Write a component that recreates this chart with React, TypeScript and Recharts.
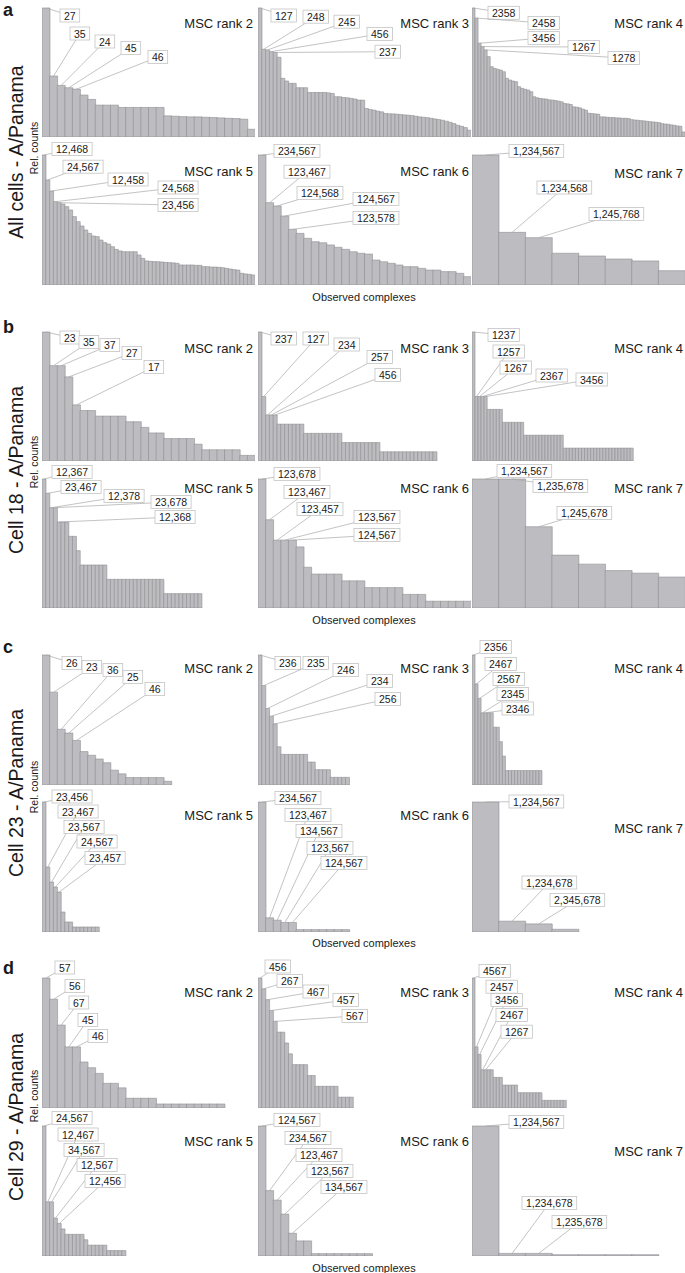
import React from 'react';
import { BarChart, Bar, XAxis, YAxis, LabelList } from 'recharts';

const FONT = '"Liberation Sans", Arial, Helvetica, sans-serif';
const BAR_FILL = '#bdbdc1';
const BAR_STROKE = '#8e8e92';
const TEXT = '#1a1a1a';

// number of possible complexes per MSC rank (8 segments choose k) -> fixed x slots
const rankSlots: Record<number, number> = { 2: 28, 3: 56, 4: 70, 5: 56, 6: 28, 7: 8 };

// ---- a: all cells (relative counts, % of top complex)
const aRank2 = [100, 47.3, 40, 38.2, 37.1, 32.5, 29.1, 24.7, 24.7, 24.7, 22.9, 22.9, 22.9, 22.9, 22.9, 22.9, 16.4, 16.1, 15.8, 15.6, 15.6, 15.3, 15.1, 14.8, 14.5, 14.3, 13.8, 6];
const aRank3 = [100, 68, 67.5, 66.2, 65.5, 61.8, 45.5, 43.4, 41.6, 41.6, 38.2, 38.2, 38.2, 34.5, 34.5, 34.5, 34.5, 34.5, 34.2, 33.8, 31.2, 31.2, 30.6, 30.4, 29.9, 29.4, 28.6, 28.6, 22.1, 21.3, 20.8, 20, 19.5, 18.2, 18, 17.9, 17.7, 17.4, 17.1, 16.9, 16.6, 16.1, 15.6, 15.3, 15, 14.5, 14, 13.5, 13, 12.2, 11.4, 10.4, 9.1, 8.3, 7.3, 5.2];
const aRank4 = [100, 92.2, 72.7, 70.1, 67.5, 62.3, 54.5, 53.2, 52.5, 51.9, 50.6, 45.5, 44.2, 43.4, 42.9, 39, 37.7, 37, 36.4, 35.1, 31.2, 30.4, 29.9, 29.6, 29.4, 28.8, 28.6, 28.3, 27.8, 27.3, 26, 25.7, 25.2, 23.4, 23.1, 22.6, 21.6, 20.8, 18.4, 18.2, 17.9, 17.7, 15.6, 15.6, 15.3, 15.1, 15.1, 14.8, 14.8, 14.5, 14.5, 14.3, 13.5, 13.2, 13, 12.7, 12.5, 12.2, 11.9, 11.7, 11.4, 11.2, 10.4, 10.1, 9.9, 9.4, 9.1, 8.6, 8.3, 3.9];
const aRank5 = [100, 80.8, 72.3, 64.1, 63.3, 62.3, 60.3, 57.7, 52.6, 48.7, 45.4, 42.3, 39.7, 37.7, 37.2, 34.6, 32.6, 31.5, 29.5, 27.4, 26.2, 25.6, 25.6, 25.6, 25.6, 23.1, 20.5, 18.5, 18.2, 18, 17.9, 17.7, 17.4, 17.2, 17, 16.7, 15.4, 15.4, 15.4, 15.4, 15.1, 15.1, 14.1, 14.1, 13.8, 13.8, 13.6, 13.3, 12.8, 12.3, 11.8, 11.5, 9, 8.5, 8.2, 7.7];
const aRank6 = [100, 63.3, 60.8, 53.1, 42.8, 39.7, 35.9, 33.3, 32.5, 30.8, 29, 27.4, 25.6, 24.4, 23.8, 19.2, 17.9, 16.7, 15.4, 14.1, 14.1, 12.8, 11.5, 11.5, 10.3, 10.3, 9, 6.4];
const aRank7 = [100, 40.5, 36.4, 24.4, 22.3, 20, 18.5, 11];

// ---- b: cell 18 (counts)
const bRank2 = [23, 17, 17, 15, 10, 9, 9, 8, 8, 8, 8, 7, 7, 6, 5, 5, 4, 4, 4, 4, 3, 2, 2, 2, 2, 2, 1, 1];
const bRank3 = [14, 7, 5, 5, 5, 4, 4, 4, 4, 4, 4, 4, 3, 3, 3, 3, 3, 3, 3, 3, 3, 3, 2, 2, 2, 2, 2, 2, 2, 2, 2, 2, 1, 1, 1, 1, 1, 1, 1, 1, 1, 1, 1, 1, 1, 1, 1];
const bRank4 = [10, 5, 5, 5, 5, 4, 4, 4, 4, 4, 3, 3, 3, 3, 3, 3, 3, 2, 2, 2, 2, 2, 2, 2, 2, 2, 2, 2, 2, 2, 1, 1, 1, 1, 1, 1, 1, 1, 1, 1, 1, 1, 1, 1, 1, 1, 1, 1, 1, 1, 1, 1, 1];
const bRank5 = [9, 8, 7, 7, 6, 6, 6, 5, 5, 4, 3, 3, 3, 3, 3, 3, 3, 2, 2, 2, 2, 2, 2, 2, 2, 2, 2, 2, 2, 2, 2, 2, 1, 1, 1, 1, 1, 1, 1, 1, 1, 1];
const bRank6 = [19, 13, 10, 10, 10, 9, 6, 5, 5, 5, 5, 4, 4, 4, 3, 3, 3, 3, 3, 2, 2, 2, 1, 1, 1, 1, 1, 1];
const bRank7 = [100, 100, 63, 41, 34, 29, 27, 24];

// ---- c: cell 23 (counts)
const cRank2 = [35, 25, 15, 14, 12, 9, 8, 7, 6, 4, 3, 2, 2, 2, 2, 2, 1];
const cRank3 = [17, 13, 10, 9, 8, 5, 4, 4, 4, 4, 4, 4, 4, 3, 3, 2, 2, 2, 2, 1, 1, 1, 1, 1];
const cRank4 = [9, 7, 6, 5, 5, 5, 5, 4, 4, 3, 2, 1, 1, 1, 1, 1, 1, 1, 1, 1, 1, 1, 1];
const cRank5 = [26, 13, 10, 9, 8, 4, 2, 2, 1, 1, 1, 1, 1, 1, 1];
const cRank6 = [55, 6, 5, 4, 4, 1, 1, 1, 1, 1, 1, 1];
const cRank7 = [48, 4, 3, 1];

// ---- d: cell 29
const dRank2 = [100, 83.7, 63.8, 47, 47, 35.4, 31, 26.6, 19, 19, 15.5, 7.5, 7.5, 7.5, 7.5, 3.1, 3.1, 3.1, 3.1, 3.1, 3.1, 3.1, 3.1, 3.1];
const dRank3 = [12, 11, 10, 9, 8, 7, 7, 6, 5, 4, 4, 4, 4, 3, 3, 2, 2, 2, 2, 2, 2, 1, 1, 1, 1];
const dRank4 = [17, 8, 7, 5, 5, 5, 5, 4, 4, 4, 3, 3, 3, 3, 3, 2, 2, 2, 2, 2, 2, 2, 2, 1, 1, 1, 1, 1, 1, 1, 1];
const dRank5 = [24, 10, 10, 7, 6, 5, 4, 4, 4, 4, 4, 3, 2, 2, 2, 2, 2, 1, 1, 1, 1, 1];
const dRank6 = [100, 50.3, 43, 32.2, 17.5, 11.6, 11.6, 1.8, 1.8, 1.8, 1.8, 1.8, 1.8, 1.8, 1.8];
const dRank7 = [100, 2, 2, 1, 1, 1, 1];

// callout texts (top complexes, in bar order)
const aLab = [
  ['27', '35', '24', '45', '46'],
  ['127', '248', '245', '456', '237'],
  ['2358', '2458', '3456', '1267', '1278'],
  ['12,468', '24,567', '12,458', '24,568', '23,456'],
  ['234,567', '123,467', '124,568', '124,567', '123,578'],
  ['1,234,567', '1,234,568', '1,245,768'],
];
const bLab = [
  ['23', '35', '37', '27', '17'],
  ['237', '127', '234', '257', '456'],
  ['1237', '1257', '1267', '2367', '3456'],
  ['12,367', '23,467', '12,378', '23,678', '12,368'],
  ['123,678', '123,467', '123,457', '123,567', '124,567'],
  ['1,234,567', '1,235,678', '1,245,678'],
];
const cLab = [
  ['26', '23', '36', '25', '46'],
  ['236', '235', '246', '234', '256'],
  ['2356', '2467', '2567', '2345', '2346'],
  ['23,456', '23,467', '23,567', '24,567', '23,457'],
  ['234,567', '123,467', '134,567', '123,567', '124,567'],
  ['1,234,567', '1,234,678', '2,345,678'],
];
const dLab = [
  ['57', '56', '67', '45', '46'],
  ['456', '267', '467', '457', '567'],
  ['4567', '2457', '3456', '2467', '1267'],
  ['24,567', '12,467', '34,567', '12,567', '12,456'],
  ['124,567', '234,567', '123,467', '123,567', '134,567'],
  ['1,234,567', '1,234,678', '1,235,678'],
];

// callout box placement on the page: [left x, centre y]
const aBox = [
  [[60, 15.5], [70, 33.5], [95, 41.5], [121, 48], [148, 57]],
  [[271, 15.5], [303, 16.7], [334, 21.7], [367, 34], [375, 51.7]],
  [[488, 12.8], [528, 23], [528, 38], [568, 47], [608, 58]],
  [[52, 149], [63, 166.7], [108, 179.5], [158, 187.5], [158, 205]],
  [[274, 151], [284, 171.7], [297, 193], [353, 199], [353, 218]],
  [[509, 151], [537, 187.5], [589, 214]],
];
const bBox = [
  [[60, 337.5], [79, 342], [100, 345], [122, 353], [144, 367]],
  [[271, 338.5], [303, 338.5], [334, 344.5], [367, 357], [375, 375]],
  [[488, 335], [493, 351.5], [500, 367.5], [536, 375.5], [576, 379.5]],
  [[52, 472], [61, 487], [104, 496], [151, 502], [155, 517]],
  [[274, 474], [284, 492], [297, 509], [354, 517], [354, 535]],
  [[497, 471], [533, 486], [557, 513]],
];
const cBox = [
  [[62, 663], [82, 667], [103, 670], [123, 677], [145, 689]],
  [[275, 663], [303, 663], [333, 670], [367, 681], [375, 699]],
  [[480, 647], [485, 664], [493, 679], [497, 694], [502, 708.5]],
  [[52, 796.5], [58, 811.5], [64, 827], [77, 841.5], [85, 858]],
  [[275, 798], [285, 815], [296, 831], [307, 848], [321, 863]],
  [[509, 801.5], [522, 882.5], [550, 900]],
];
const dBox = [
  [[55, 967.5], [65, 986], [69, 1002.5], [78, 1020], [88, 1036]],
  [[265, 966.5], [277, 981], [303, 991.5], [333, 1000], [342, 1016]],
  [[479, 971], [486, 986.7], [491, 1000], [496, 1015], [501, 1031.7]],
  [[52, 1118], [58, 1134.5], [64, 1150], [77, 1165], [85, 1181]],
  [[274, 1120], [285, 1138], [296, 1155], [307, 1171], [321, 1187]],
  [[509, 1122], [522, 1203], [552, 1222]],
];

const ranks = [2, 3, 4, 5, 6, 7];

const panels = [
  {
    letter: 'a', letterY: 16, title: 'All cells - A/Panama', titleY: 152, relY: 148, obsY: 297,
    rows: [[8, 137], [155, 285]], rankY: [23, 23, 23, 171, 171, 173],
    values: [aRank2, aRank3, aRank4, aRank5, aRank6, aRank7], labels: aLab, boxes: aBox,
  },
  {
    letter: 'b', letterY: 333, title: 'Cell 18 - A/Panama', titleY: 470, relY: 462, obsY: 620,
    rows: [[332, 461], [479, 608]], rankY: [348, 348, 348, 488, 488, 488],
    values: [bRank2, bRank3, bRank4, bRank5, bRank6, bRank7], labels: bLab, boxes: bBox,
  },
  {
    letter: 'c', letterY: 653, title: 'Cell 23 - A/Panama', titleY: 793, relY: 787, obsY: 943,
    rows: [[655, 785], [802, 932]], rankY: [668, 668, 668, 815, 815, 828],
    values: [cRank2, cRank3, cRank4, cRank5, cRank6, cRank7], labels: cLab, boxes: cBox,
  },
  {
    letter: 'd', letterY: 974, title: 'Cell 29 - A/Panama', titleY: 1117, relY: 1096, obsY: 1268,
    rows: [[978, 1108], [1126, 1256]], rankY: [992, 992, 992, 1141, 1141, 1151],
    values: [dRank2, dRank3, dRank4, dRank5, dRank6, dRank7], labels: dLab, boxes: dBox,
  },
];

const COL_X = [42, 258, 472];
const CHART_W = 213;
const PAD = 22;
const BOX_FS = 10.5;
const BOX_H = 13;

const textWidth = (s: string) =>
  s.split('').reduce((w, ch) => w + (ch === ',' ? 0.278 : 0.556), 0) * BOX_FS;

// ggrepel-like callout: segment from bar top toward the box centre, cut at the box edge
function callout(labels: string[], boxes: number[][], ox: number, oy: number) {
  return (props: any) => {
    const idx = Number(props.value ?? props.index);
    if (!(idx < labels.length)) return null;
    const vb = props.viewBox || props;
    if (vb == null || vb.x == null) return null;
    const px = vb.x + vb.width / 2;
    const py = vb.y;
    const txt = labels[idx];
    const w = textWidth(txt) + 8;
    const bx = boxes[idx][0] - ox;
    const by = boxes[idx][1] - oy - BOX_H / 2;
    const cx = bx + w / 2;
    const cy = by + BOX_H / 2;
    const dx = cx - px;
    const dy = cy - py;
    const tx = Math.abs(dx) > 1e-6 ? 1 - w / 2 / Math.abs(dx) : -Infinity;
    const ty = Math.abs(dy) > 1e-6 ? 1 - BOX_H / 2 / Math.abs(dy) : -Infinity;
    const t = Math.max(0, Math.min(1, Math.max(tx, ty)));
    return (
      <g key={`co-${idx}`}>
        <line x1={px} y1={py} x2={px + dx * t} y2={py + dy * t} stroke="#a9a9a9" strokeWidth={0.7} />
        <rect x={bx} y={by} width={w} height={BOX_H} fill="#fff" stroke="#c4c4c4" strokeWidth={0.8} />
        <text x={cx} y={cy} textAnchor="middle" dominantBaseline="central" fontSize={BOX_FS} fontFamily={FONT} fill={TEXT}>
          {txt}
        </text>
      </g>
    );
  };
}

function MiniBars({ rank, values, labels, boxes, left, top, height }: any) {
  const n = rankSlots[rank];
  const data = Array.from({ length: n }, (_, i) => ({ k: i, i, v: i < values.length ? values[i] : 0 }));
  const ox = left;
  const oy = top - PAD;
  return (
    <div style={{ position: 'absolute', left, top: top - PAD }}>
      <BarChart
        width={CHART_W}
        height={height + PAD}
        data={data}
        margin={{ top: PAD, right: 0, bottom: 0, left: 0 }}
        barCategoryGap={0}
        barGap={0}
      >
        <XAxis dataKey="k" hide />
        <YAxis hide domain={[0, 'dataMax']} />
        <Bar dataKey="v" fill={BAR_FILL} stroke={BAR_STROKE} strokeWidth={0.6} isAnimationActive={false}>
          <LabelList dataKey="i" content={callout(labels, boxes, ox, oy)} />
        </Bar>
      </BarChart>
    </div>
  );
}

export default function App() {
  return (
    <div style={{ position: 'absolute', left: 0, top: 0, width: 685, height: 1273, background: '#fff', fontFamily: FONT }}>
      <svg width={685} height={1273} style={{ position: 'absolute', left: 0, top: 0 }}>
        {panels.map((p) => (
          <g key={p.letter} fontFamily={FONT} fill={TEXT}>
            <text x={3} y={p.letterY} fontSize={18} fontWeight="bold">{p.letter}</text>
            <text transform={`translate(23, ${p.titleY}) rotate(-90)`} textAnchor="middle" fontSize={19.5}>{p.title}</text>
            <text transform={`translate(38, ${p.relY}) rotate(-90)`} textAnchor="middle" fontSize={10.5}>Rel. counts</text>
            <text x={364} y={p.obsY} textAnchor="middle" dominantBaseline="central" fontSize={11}>Observed complexes</text>
            {ranks.map((r, j) => (
              <text
                key={r}
                x={COL_X[j % 3] + CHART_W - 2}
                y={p.rankY[j]}
                textAnchor="end"
                dominantBaseline="central"
                fontSize={13}
              >
                {`MSC rank ${r}`}
              </text>
            ))}
          </g>
        ))}
      </svg>
      {panels.map((p) =>
        ranks.map((r, j) => {
          const row = p.rows[j < 3 ? 0 : 1];
          return (
            <MiniBars
              key={`${p.letter}-${r}`}
              rank={r}
              values={p.values[j]}
              labels={p.labels[j]}
              boxes={p.boxes[j]}
              left={COL_X[j % 3]}
              top={row[0]}
              height={row[1] - row[0]}
            />
          );
        })
      )}
    </div>
  );
}
